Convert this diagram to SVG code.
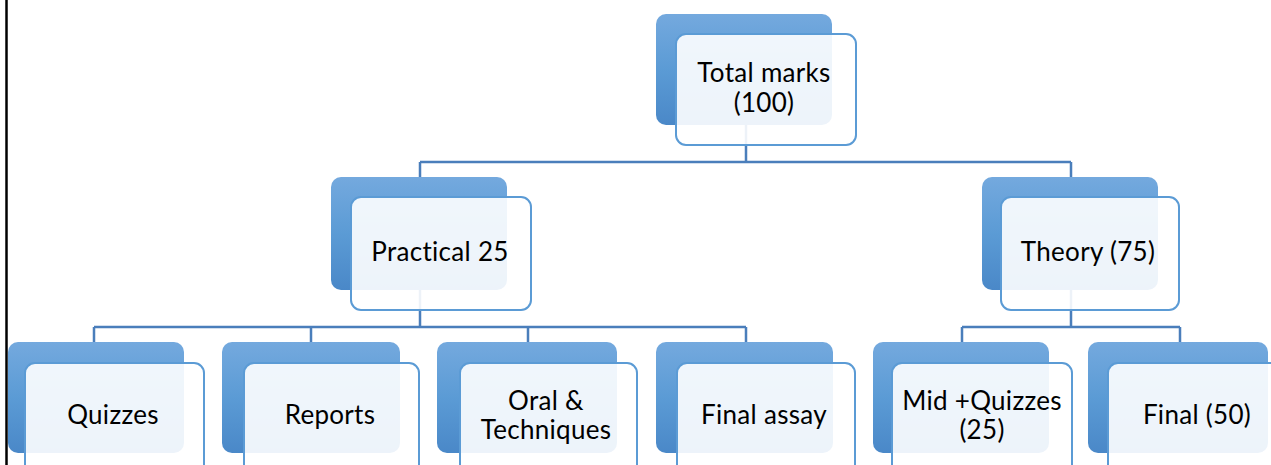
<svg xmlns="http://www.w3.org/2000/svg" width="1271" height="465" viewBox="0 0 1271 465">
<defs>
<linearGradient id="g" x1="0" y1="0" x2="0" y2="1">
<stop offset="0" stop-color="#74a9de"/>
<stop offset="0.5" stop-color="#5b9bd5"/>
<stop offset="1" stop-color="#4a88c8"/>
</linearGradient>
</defs>
<style>
.back{fill:url(#g);}
.front{fill:#ffffff;fill-opacity:0.9;stroke:#5b9bd5;stroke-width:2;}
.conn{fill:none;stroke:#4a7ebb;stroke-width:2.5;}
text{font-family:Lato,"Liberation Sans",sans-serif;font-size:26px;fill:#000;text-anchor:middle;letter-spacing:0.3px;}
</style>
<rect width="1271" height="465" fill="#ffffff"/>
<line x1="6.5" y1="0" x2="6.5" y2="465" stroke="#000" stroke-width="2.5"/>
<g id="connectors">
<path class="conn" d="M746,125 V162 M420,162 H1071 M420,162 V177 M1071,162 V177"/>
<path class="conn" d="M420,290 V327 M94,327 H746 M94,327 V342 M311,327 V342 M528,327 V342 M746,327 V342"/>
<path class="conn" d="M1071,290 V327 M962,327 H1180 M962,327 V342 M1180,327 V342"/>
</g>
<g id="total">
<rect class="back" x="656" y="14" width="176" height="111" rx="10"/>
<rect class="front" x="676" y="34" width="180" height="111" rx="10"/>
<text x="764" y="82">Total marks</text>
<text x="764" y="112">(100)</text>
</g>
<g id="practical">
<rect class="back" x="331" y="177" width="176" height="113" rx="10"/>
<rect class="front" x="351" y="197" width="180" height="113" rx="10"/>
<text x="440" y="261">Practical 25</text>
</g>
<g id="theory">
<rect class="back" x="982" y="177" width="176" height="113" rx="10"/>
<rect class="front" x="1001" y="197" width="178" height="113" rx="10"/>
<text x="1088" y="261">Theory (75)</text>
</g>
<g id="quizzes">
<rect class="back" x="8" y="342" width="176" height="111" rx="10"/>
<rect class="front" x="25" y="363" width="179" height="120" rx="10"/>
<text x="113" y="424">Quizzes</text>
</g>
<g id="reports">
<rect class="back" x="222" y="342" width="178" height="111" rx="10"/>
<rect class="front" x="244" y="363" width="175" height="120" rx="10"/>
<text x="330" y="424">Reports</text>
</g>
<g id="oral">
<rect class="back" x="437" y="342" width="180" height="111" rx="10"/>
<rect class="front" x="460" y="363" width="177" height="120" rx="10"/>
<text x="546" y="410">Oral &amp;</text>
<text x="546" y="439">Techniques</text>
</g>
<g id="finalassay">
<rect class="back" x="656" y="342" width="177" height="111" rx="10"/>
<rect class="front" x="677" y="363" width="178" height="120" rx="10"/>
<text x="764" y="424">Final assay</text>
</g>
<g id="mid">
<rect class="back" x="873" y="342" width="176" height="111" rx="10"/>
<rect class="front" x="892" y="363" width="180" height="120" rx="10"/>
<text x="982" y="410">Mid +Quizzes</text>
<text x="982" y="439">(25)</text>
</g>
<g id="final">
<rect class="back" x="1088" y="342" width="180" height="111" rx="10"/>
<rect class="front" x="1108" y="363" width="180" height="120" rx="10"/>
<text x="1197" y="424">Final (50)</text>
</g>
</svg>
